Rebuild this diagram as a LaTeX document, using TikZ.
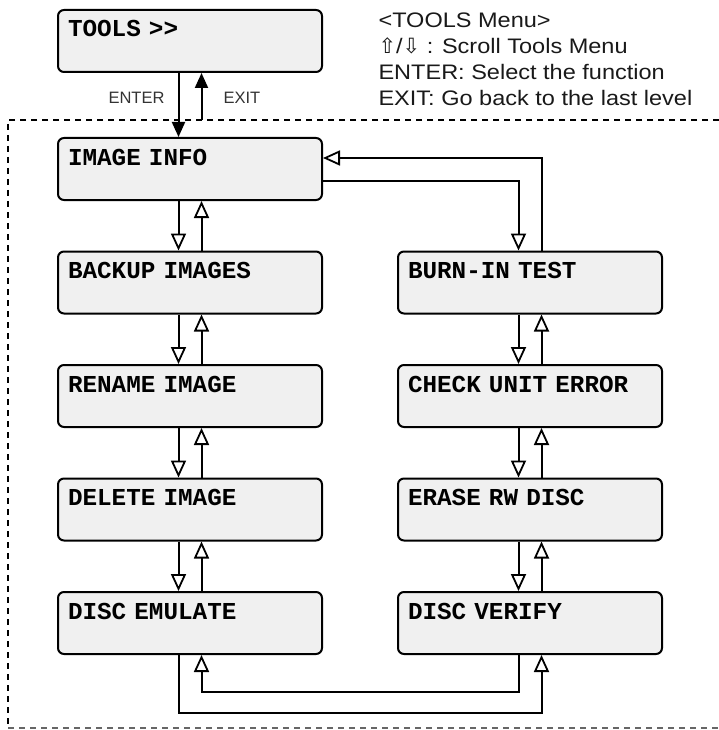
\documentclass[tikz,border=0pt]{standalone}
\usepackage{fontspec}
\usetikzlibrary{arrows.meta,positioning}
\newfontfamily\menufont{Liberation Mono}
\newfontfamily\notefont[FakeStretch=1.12]{Liberation Sans}
\newfontfamily\keyfont{Liberation Sans}
\newfontfamily\arrowfont{DejaVu Sans}

\begin{document}
\begin{tikzpicture}[x=1pt, y=-1pt,
    >={Triangle[open, length=17pt, width=15pt, line width=1.8pt]},
    */.tip={Triangle[length=15pt, width=13pt]},
    node distance=113.5pt and 340pt,
    menu/.style={draw, on grid, rounded corners=6pt, line width=2pt, fill=black!6, align=left, text width=244pt, inner xsep=10pt, inner ysep=0pt, text height=27pt, text depth=35pt, font={\menufont\bfseries\fontsize{24.3}{24}\selectfont\spaceskip=0.6em\relax}},
    link/.style={->, line width=2pt},
    key/.style={font={\keyfont\fontsize{16.5}{18}\selectfont}, text=black!80},
    frame/.style={dash pattern=on 6pt off 5pt, line width=2pt}]

\useasboundingbox (0,0) rectangle (719,730);

\node [menu] (info) at (190,169) {IMAGE INFO};
\node [menu] (tools) [above=128pt of info] {TOOLS >{}>};
\node [menu] (backup) [below=of info] {BACKUP IMAGES};
\node [menu] (rename) [below=of backup] {RENAME IMAGE};
\node [menu] (delete) [below=of rename] {DELETE IMAGE};
\node [menu] (emulate) [below=of delete] {DISC EMULATE};
\node [menu] (burnin) [right=of backup] {BURN-IN TEST};
\node [menu] (check) [right=of rename] {CHECK UNIT ERROR};
\node [menu] (erase) [right=of delete] {ERASE RW DISC};
\node [menu] (verify) [right=of emulate] {DISC VERIFY};

% help text
\node [anchor=base west, align=left, text=black!90, font={\notefont\fontsize{21}{26}\selectfont}] (help) at (375,106)
  {<TOOLS Menu>\\{\arrowfont ⇧}/{\arrowfont ⇩} : Scroll Tools Menu\\ENTER: Select the function\\EXIT: Go back to the last level};

% dashed frame
\coordinate (ftl) at (8,120);
\coordinate (ftr) at (719,120);
\coordinate (fbl) at (8,728);
\coordinate (fbr) at (719,728);
\draw [frame] (ftr) -- (ftl) -- (fbl);
\draw [frame, black!60, line width=1.4pt] (fbl) -- (fbr);

% enter / exit
\coordinate (exitfoot) at ([xshift=11.5pt]tools.south |- ftl);
\draw [-*, line width=2pt] ([xshift=-11.5pt]tools.south) -- ([xshift=-11.5pt]info.north);
\draw [-*, line width=2pt] (exitfoot) -- ([xshift=11.5pt]tools.south);
\node [key, anchor=base east] (enter) at (168,104) {ENTER};
\node [key, anchor=base west] (exit) at (220,104) {EXIT};

% up / down between menus
\foreach \a/\b in {info/backup, backup/rename, rename/delete, delete/emulate, burnin/check, check/erase, erase/verify} {
  \draw [link] ([xshift=-11.5pt]\a.south) -- ([xshift=-11.5pt]\b.north);
  \draw [link] ([xshift=11.5pt]\b.north) -- ([xshift=11.5pt]\a.south);
}

% wrap round
\draw [link] ([yshift=-12pt]info.east) -| ([xshift=-11.5pt]burnin.north);
\draw [link] ([xshift=11.5pt]burnin.north) |- ([yshift=11pt]info.east);
\draw [link] ([xshift=-11.5pt]emulate.south) -- ++(0,58) -| ([xshift=11.5pt]verify.south);
\draw [link] ([xshift=-11.5pt]verify.south) -- ++(0,37) -| ([xshift=11.5pt]emulate.south);

\end{tikzpicture}
\end{document}
